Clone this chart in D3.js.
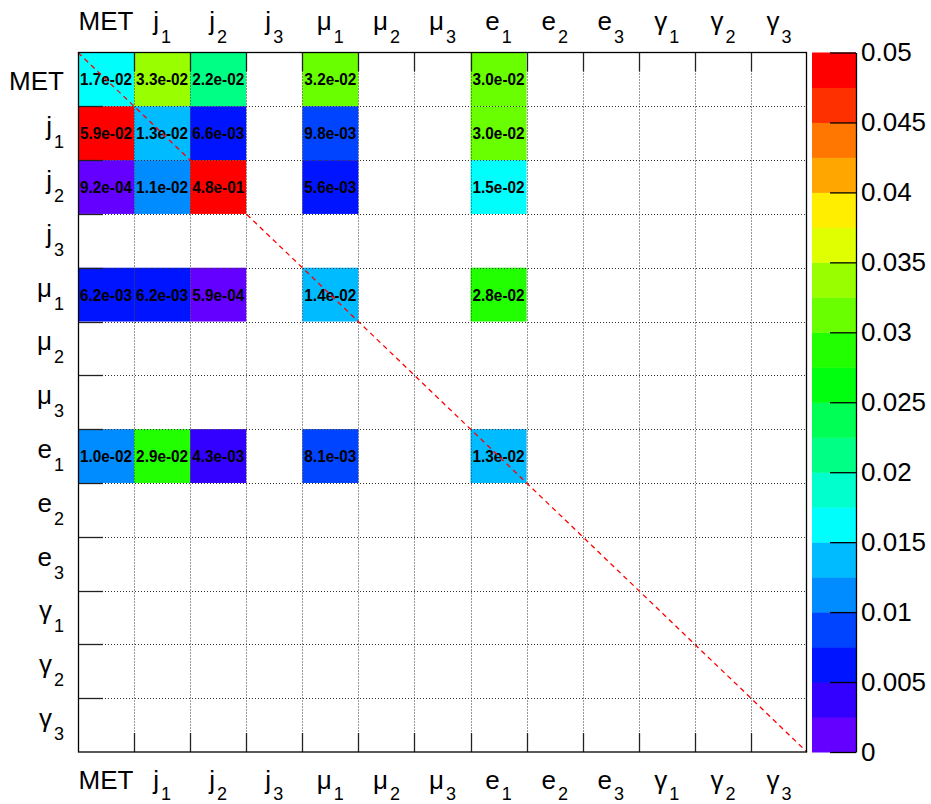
<!DOCTYPE html>
<html><head><meta charset="utf-8">
<script src="https://cdn.jsdelivr.net/npm/d3@7"></script>
<style>body{margin:0;background:#fff}svg{display:block}</style>
</head><body>
<svg id="chart" width="931" height="804"></svg>
<script>
// ---- data ----
const categories = ["MET","j1","j2","j3","mu1","mu2","mu3","e1","e2","e3","g1","g2","g3"];
const labelBase  = ["MET","j","j","j","μ","μ","μ","e","e","e","γ","γ","γ"];
const labelSub   = ["","1","2","3","1","2","3","1","2","3","1","2","3"];
// row values, one entry per column in category order (null = empty cell)
const rowMET = [0.017, 0.033, 0.022, null, 0.032, null, null, 0.0302, null, null, null, null, null];
const rowJ1  = [0.059, 0.013, 0.0066, null, 0.0098, null, null, 0.0302, null, null, null, null, null];
const rowJ2  = [0.00092, 0.011, 0.48, null, 0.0056, null, null, 0.0152, null, null, null, null, null];
const rowJ3  = [null, null, null, null, null, null, null, null, null, null, null, null, null];
const rowMu1 = [0.0062, 0.0062, 0.00059, null, 0.014, null, null, 0.028, null, null, null, null, null];
const rowMu2 = [null, null, null, null, null, null, null, null, null, null, null, null, null];
const rowMu3 = [null, null, null, null, null, null, null, null, null, null, null, null, null];
const rowE1  = [0.0102, 0.029, 0.0043, null, 0.0081, null, null, 0.013, null, null, null, null, null];
const rowE2  = [null, null, null, null, null, null, null, null, null, null, null, null, null];
const rowE3  = [null, null, null, null, null, null, null, null, null, null, null, null, null];
const rowG1  = [null, null, null, null, null, null, null, null, null, null, null, null, null];
const rowG2  = [null, null, null, null, null, null, null, null, null, null, null, null, null];
const rowG3  = [null, null, null, null, null, null, null, null, null, null, null, null, null];
const rows = [rowMET,rowJ1,rowJ2,rowJ3,rowMu1,rowMu2,rowMu3,rowE1,rowE2,rowE3,rowG1,rowG2,rowG3];
const colorTicks = [0, 0.005, 0.01, 0.015, 0.02, 0.025, 0.03, 0.035, 0.04, 0.045, 0.05];
const zMax = 0.05, nLevels = 20;

// ---- layout ----
const L = 78, R = 807, T = 52.5, B = 752;
const CBL = 812, CBR = 856;
const FONT = "'Liberation Sans', Arial, Helvetica, sans-serif";

// ROOT "pretty" palette (violet -> red), 20 contour levels
const palette = d3.range(nLevels).map(j => {
  const k = Math.floor((j + 0.99) * 50 / nLevels);
  return d3.hsl(280 - (k + 1) * 5.6, 1, 0.5).formatHex();
});

const svg = d3.select("#chart");
const x = d3.scaleBand().domain(categories).range([L, R]).padding(0);
const y = d3.scaleBand().domain(categories).range([T, B]).padding(0);
const color = d3.scaleQuantize().domain([0, zMax]).range(palette);
const cb = d3.scaleLinear().domain([0, zMax]).range([B, T]);

const cells = [];
rows.forEach((r, i) => r.forEach((v, j) => { if (v != null) cells.push({row: categories[i], col: categories[j], v}); }));

function fmt(v) {
  const s = v.toExponential(1);
  return s.replace(/e([+-])(\d)$/, "e$10$2");
}

// cells
svg.append("g").selectAll("rect").data(cells).join("rect")
  .attr("x", d => x(d.col)).attr("y", d => y(d.row))
  .attr("width", x.bandwidth()).attr("height", y.bandwidth())
  .attr("fill", d => color(d.v));

// cell texts
svg.append("g").selectAll("text").data(cells).join("text")
  .attr("x", d => x(d.col) + x.bandwidth() / 2)
  .attr("y", d => y(d.row) + y.bandwidth() / 2 + 6)
  .attr("text-anchor", "middle")
  .attr("font-family", FONT).attr("font-weight", "bold").attr("font-size", 16.5)
  .attr("textLength", 52).attr("lengthAdjust", "spacingAndGlyphs")
  .attr("fill", "#000")
  .text(d => fmt(d.v));

// grid (dotted)
const inner = categories.slice(1);
const grid = svg.append("g").attr("stroke", "#333").attr("stroke-width", 1).attr("stroke-dasharray", "1,2");
grid.selectAll("line.v").data(inner).join("line").attr("class", "v")
  .attr("x1", d => Math.round(x(d)) + 0.5).attr("x2", d => Math.round(x(d)) + 0.5)
  .attr("y1", T).attr("y2", B);
grid.selectAll("line.h").data(inner).join("line").attr("class", "h")
  .attr("y1", d => Math.round(y(d)) + 0.5).attr("y2", d => Math.round(y(d)) + 0.5)
  .attr("x1", L).attr("x2", R);

// ticks
const ticks = svg.append("g").attr("stroke", "#222").attr("stroke-width", 1.3);
ticks.selectAll("line.t").data(inner).join("line").attr("class", "t")
  .attr("x1", d => Math.round(x(d)) + 0.5).attr("x2", d => Math.round(x(d)) + 0.5)
  .attr("y1", T).attr("y2", T + 19);
ticks.selectAll("line.b").data(inner).join("line").attr("class", "b")
  .attr("x1", d => Math.round(x(d)) + 0.5).attr("x2", d => Math.round(x(d)) + 0.5)
  .attr("y1", B - 19).attr("y2", B);
ticks.selectAll("line.l").data(inner).join("line").attr("class", "l")
  .attr("y1", d => Math.round(y(d)) + 0.5).attr("y2", d => Math.round(y(d)) + 0.5)
  .attr("x1", L).attr("x2", L + 25);

// diagonal
svg.append("line").attr("x1", L).attr("y1", T).attr("x2", R).attr("y2", B)
  .attr("stroke", "#ff0000").attr("stroke-width", 1.3).attr("stroke-dasharray", "5,4");

// frame
svg.append("rect").attr("x", L + 0.5).attr("y", T).attr("width", R - L - 1).attr("height", B - T)
  .attr("fill", "none").attr("stroke", "#000").attr("stroke-width", 1.3);

// axis labels
function addLabel(g, i, xPos, yBase, anchor, subDy) {
  const t = g.append("text").attr("x", xPos).attr("y", yBase).attr("text-anchor", anchor)
    .attr("font-family", FONT).attr("font-size", 26).attr("fill", "#000");
  t.append("tspan").text(labelBase[i]);
  if (labelSub[i]) {
    t.append("tspan").attr("dx", 2).attr("dy", subDy).attr("font-size", 18).text(labelSub[i]);
  }
}
const labs = svg.append("g");
categories.forEach((c, i) => {
  const cx = x(c) + x.bandwidth() / 2;
  addLabel(labs, i, cx, 30, "middle", 13);
  addLabel(labs, i, cx, 789, "middle", 11);
  const cy = y(c) + y.bandwidth() / 2;
  addLabel(labs, i, 64, labelSub[i] ? cy + 2 : cy + 10.5, "end", 13);
});

// color bar
const bands = d3.range(nLevels).map(j => ({lo: j * zMax / nLevels, hi: (j + 1) * zMax / nLevels}));
svg.append("g").selectAll("rect").data(bands).join("rect")
  .attr("x", CBL).attr("width", CBR - CBL)
  .attr("y", d => cb(d.hi)).attr("height", d => cb(d.lo) - cb(d.hi) + 0.5)
  .attr("fill", d => color((d.lo + d.hi) / 2));

const cbAxis = svg.append("g").attr("transform", `translate(${CBR},0)`)
  .call(d3.axisRight(cb).tickValues(colorTicks).tickFormat(d3.format("~g"))
    .tickSizeInner(-26).tickSizeOuter(0).tickPadding(5));
cbAxis.selectAll("path,line").attr("stroke", "#000").attr("stroke-width", 1.3);
cbAxis.selectAll("text").attr("font-family", FONT).attr("font-size", 26).attr("fill", "#000");
</script>
</body></html>
